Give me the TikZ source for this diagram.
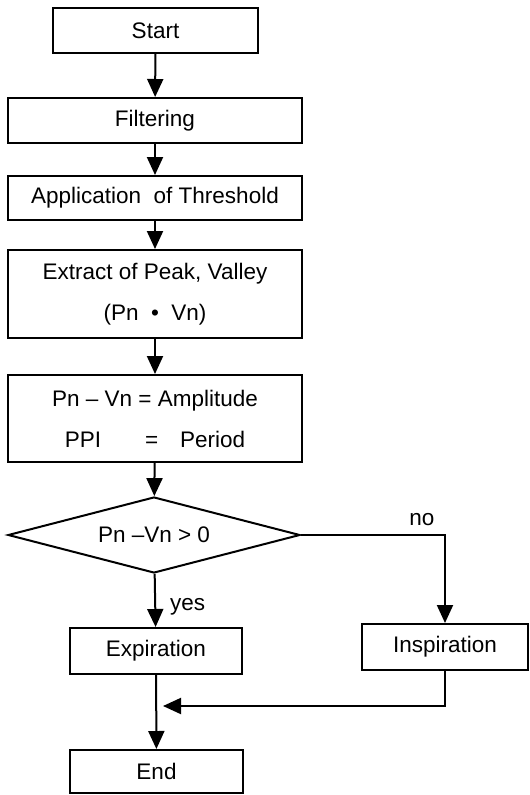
\documentclass[tikz,border=0pt]{standalone}
\usepackage{fontspec}
\setmainfont{Liberation Sans}
\usetikzlibrary{shapes.geometric,arrows.meta}
\begin{document}
\begin{tikzpicture}[x=1pt,y=-1pt,
  font=\fontsize{22.5}{41}\selectfont,
  box/.style={draw,line width=2pt,inner sep=0pt,align=center},
  dec/.style={draw,diamond,aspect=3.84,line width=2pt,inner sep=0pt,minimum width=292pt,minimum height=76pt},
  conn/.style={line width=2pt,-{Triangle[length=18pt,width=16pt]}},
  lbl/.style={inner sep=0pt}]
\useasboundingbox (0,0) rectangle (530,795);
\node[box,minimum width=205pt,minimum height=45pt] (start) at (155.5,30.5) {Start};
\node[box,minimum width=294pt,minimum height=45pt] (filt) at (155,120.5) {Filtering};
\node[box,minimum width=294pt,minimum height=44pt] (thr) at (155,198) {Application\ \ of Threshold};
\node[box,minimum width=294pt,minimum height=88pt] (ext) at (155,294) {Extract of Peak, Valley\\(Pn \ • \ Vn)};
\node[box,minimum width=294pt,minimum height=87pt] (amp) at (155,418.5) {Pn – Vn = Amplitude\\PPI\hspace{44pt}=\hspace{22pt}Period};
\node[dec] (dia) at (154,535) {Pn –Vn > 0};
\node[box,minimum width=172pt,minimum height=46pt] (exp) at (156,651) {Expiration};
\node[box,minimum width=166pt,minimum height=46pt] (insp) at (445,647) {Inspiration};
\node[box,minimum width=173pt,minimum height=43pt] (end) at (156.5,771.5) {End};
\coordinate (m) at (155,706);
\draw[conn] (start) -- (filt);
\draw[conn] (filt) -- (thr);
\draw[conn] (thr) -- (ext);
\draw[conn] (ext) -- (amp);
\draw[conn] (amp) -- (dia);
\draw[conn] (dia) -- node[lbl,right,pos=0.62,xshift=14pt] (yes) {yes} (exp);
\draw[conn] (dia.east) -| node[lbl,pos=0.42,above,yshift=8pt] (no) {no} (insp.north);
\draw[conn,shorten >=8pt] (insp.south) |- (m);
\draw[conn] (exp) -- (end);
\end{tikzpicture}
\end{document}
